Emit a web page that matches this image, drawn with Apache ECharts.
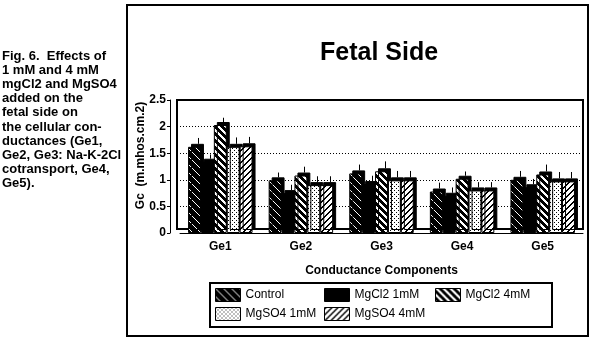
<!DOCTYPE html>
<html><head><meta charset="utf-8">
<script src="https://cdn.jsdelivr.net/npm/echarts@6/dist/echarts.min.js"></script>
<style>html,body{margin:0;padding:0;background:#fff}#c{width:593px;height:338px}</style>
</head><body><div id="c"></div>
<script>
const categories = ['Ge1', 'Ge2', 'Ge3', 'Ge4', 'Ge5'];
const seriesNames = ['Control', 'MgCl2 1mM', 'MgCl2 4mM', 'MgSO4 1mM', 'MgSO4 4mM'];
const control = [1.62, 0.99, 1.12, 0.78, 1.00];
const mgcl2_1 = [1.34, 0.75, 0.92, 0.70, 0.86];
const mgcl2_4 = [2.03, 1.08, 1.16, 1.02, 1.10];
const mgso4_1 = [1.62, 0.90, 0.99, 0.80, 0.97];
const mgso4_4 = [1.63, 0.90, 0.99, 0.80, 0.97];
const errControl = [0.11, 0.09, 0.11, 0.11, 0.11];
const errMgcl2_1 = [0.08, 0.10, 0.10, 0.10, 0.10];
const errMgcl2_4 = [0.08, 0.11, 0.13, 0.08, 0.13];
const errMgso4_1 = [0.12, 0.11, 0.12, 0.10, 0.12];
const errMgso4_4 = [0.12, 0.11, 0.12, 0.10, 0.12];
const yTicks = [0, 0.5, 1, 1.5, 2, 2.5];
const captionLines = ['Fig. 6.  Effects of', '1 mM and 4 mM', 'mgCl2 and MgSO4', 'added on the', 'fetal side on',
  'the cellular con-', 'ductances (Ge1,', 'Ge2, Ge3: Na-K-2Cl', 'cotransport, Ge4,', 'Ge5).'];
const legendColumns = [['Control', 'MgSO4 1mM'], ['MgCl2 1mM', 'MgSO4 4mM'], ['MgCl2 4mM']];

const values = [control, mgcl2_1, mgcl2_4, mgso4_1, mgso4_4];
const errors = [errControl, errMgcl2_1, errMgcl2_4, errMgso4_1, errMgso4_4];

function makePattern(size, bg, fgTest) {
  const cv = document.createElement('canvas');
  cv.width = size; cv.height = size;
  const ctx = cv.getContext('2d');
  ctx.fillStyle = bg; ctx.fillRect(0, 0, size, size);
  ctx.fillStyle = bg === '#000' ? '#fff' : '#000';
  for (let x = 0; x < size; x++) for (let y = 0; y < size; y++) if (fgTest(x, y)) ctx.fillRect(x, y, 1, 1);
  return { image: cv, repeat: 'repeat' };
}
const fills = [
  makePattern(8, '#000', (x, y) => ((x - y + 16) % 8) === 0),
  '#000',
  makePattern(7, '#000', (x, y) => ((x - y + 14) % 7) < 3),
  makePattern(4, '#fff', (x, y) => (x === 0 && y === 0) || (x === 2 && y === 2)),
  makePattern(6, '#fff', (x, y) => ((x + y) % 6) < 2)
];

const FONT = "'Liberation Sans', Arial, sans-serif";
const CAT_GAP = 0.2;

const barSeries = seriesNames.map((name, k) => ({
  name, type: 'bar', data: values[k], barGap: '0%', barCategoryGap: (CAT_GAP * 100) + '%',
  itemStyle: { color: fills[k], borderColor: '#000', borderWidth: 1,
    shadowColor: '#000', shadowBlur: 0, shadowOffsetX: 3, shadowOffsetY: -3 },
  emphasis: { disabled: true }, z: 3
}));
const errSeries = seriesNames.map((name, k) => ({
  type: 'custom', silent: true, z: 4,
  data: categories.map((c, i) => [i, values[k][i], errors[k][i]]),
  renderItem: function (params, api) {
    const band = api.size([1, 0])[0];
    const bw = band * (1 - CAT_GAP) / seriesNames.length;
    const p1 = api.coord([api.value(0), api.value(1)]);
    const p2 = api.coord([api.value(0), api.value(1) + api.value(2)]);
    const x = Math.round(p1[0] + (k - 2) * bw + 3) + 0.5;
    return { type: 'line', shape: { x1: x, y1: p1[1] - 3, x2: x, y2: p2[1] - 3 }, style: { stroke: '#000', lineWidth: 1 } };
  }
}));

const legendLefts = [215, 324, 435];
const legends = legendColumns.map((names, j) => ({
  data: names, orient: 'vertical', left: legendLefts[j], top: 288, padding: 0,
  icon: 'rect', itemGap: 5, itemWidth: 25, itemHeight: 13, itemTextGap: 3,
  itemStyle: { borderColor: '#000', borderWidth: 1, shadowColor: 'rgba(0,0,0,0)', shadowOffsetX: 0, shadowOffsetY: 0 },
  textStyle: { fontFamily: FONT, fontSize: 12, color: '#000' },
  selectedMode: false
}));

const chart = echarts.init(document.getElementById('c'), null, { renderer: 'canvas' });
chart.setOption({
  animation: false,
  backgroundColor: '#fff',
  textStyle: { fontFamily: FONT },
  title: [
    { text: 'Fetal Side', left: 315, top: 36, textStyle: { fontFamily: FONT, fontSize: 25, fontWeight: 'bold', color: '#000' } },
    { text: captionLines.join('\n'), left: 2, top: 49, padding: 0,
      textStyle: { fontFamily: FONT, fontSize: 13, fontWeight: 'bold', color: '#000', lineHeight: 14.2 } }
  ],
  graphic: [
    { type: 'rect', shape: { x: 127, y: 5, width: 461, height: 331 }, style: { fill: 'none', stroke: '#000', lineWidth: 2 }, z: 0 },
    { type: 'rect', shape: { x: 177, y: 100, width: 406, height: 129 }, style: { fill: 'none', stroke: '#000', lineWidth: 2 }, z: 1 },
    { type: 'rect', shape: { x: 210, y: 283, width: 342, height: 44 }, style: { fill: '#fff', stroke: '#000', lineWidth: 2 }, z: 1 }
  ],
  grid: { left: 180, right: 10, top: 100, bottom: 105 },
  legend: legends,
  xAxis: {
    type: 'category', data: categories,
    axisLine: { lineStyle: { color: '#000', width: 1 } }, axisTick: { show: false },
    axisLabel: { color: '#000', fontFamily: FONT, fontSize: 12, fontWeight: 'bold', margin: 8 },
    name: 'Conductance Components', nameLocation: 'middle', nameGap: 32,
    nameTextStyle: { color: '#000', fontFamily: FONT, fontSize: 12, fontWeight: 'bold' }
  },
  yAxis: {
    type: 'value', min: 0, max: 2.5, interval: 0.5, offset: 10,
    axisLine: { show: true, lineStyle: { color: '#000', width: 1 } },
    axisTick: { show: true, length: 3, lineStyle: { color: '#000' } },
    axisLabel: { color: '#000', fontFamily: FONT, fontSize: 12, fontWeight: 'bold', margin: 4 },
    splitLine: { show: true, lineStyle: { color: '#000', type: [1, 2], width: 1 } },
    name: 'Gc  (m.mhos.cm.2)', nameLocation: 'middle', nameGap: 23, nameMoveOverlap: false,
    nameTextStyle: { color: '#000', fontFamily: FONT, fontSize: 12, fontWeight: 'bold', padding: [0, 0, 0, 22] }
  },
  series: barSeries.concat(errSeries)
});
</script></body></html>
